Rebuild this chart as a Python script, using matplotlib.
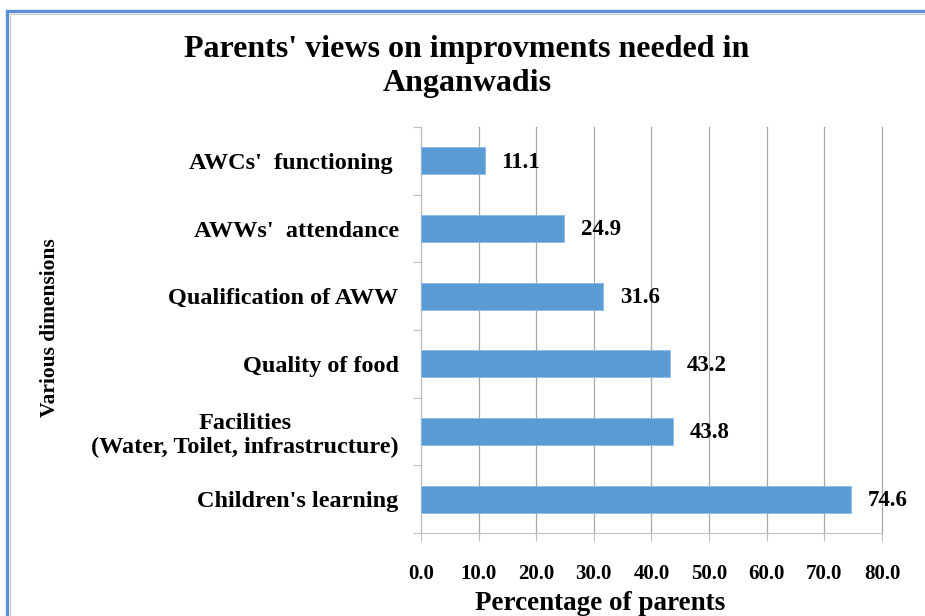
import matplotlib
matplotlib.use('Agg')
import matplotlib.pyplot as plt
from matplotlib.patches import Rectangle

# Survey results, bottom to top as drawn
categories = [
    "Children's learning",
    "Facilities\n(Water, Toilet, infrastructure)",
    "Quality of food",
    "Qualification of AWW",
    "AWWs'  attendance",
    "AWCs'  functioning ",
]
values = [74.6, 43.8, 43.2, 31.6, 24.9, 11.1]
xticks = [0, 10, 20, 30, 40, 50, 60, 70, 80]

plt.rcParams['font.family'] = ['Liberation Serif', 'DejaVu Serif']
plt.rcParams['font.weight'] = 'bold'

fig = plt.figure(figsize=(9.25, 6.16), dpi=100)
ax = fig.add_axes([0.455, 0.1347, 0.4985, 0.6591])

ypos = list(range(len(categories)))
ax.barh(ypos, values, height=0.4, color='#5B9BD5', edgecolor='#8DBBE6',
        linewidth=0.6, zorder=3)

for y, v in zip(ypos, values):
    ax.annotate(f'{v:.1f}', xy=(v, y), xytext=(12, -1), textcoords='offset points',
                va='center', ha='left', fontsize=16.5, fontweight='bold', zorder=4)

ax.set_xlim(0, 80)
ax.set_ylim(-0.5, len(categories) - 0.5)
ax.set_xticks(xticks)
ax.set_xticklabels([f'{t:.1f}' for t in xticks], fontsize=15, fontweight='bold')

# category labels sit between the boundary tick marks
ax.set_yticks([y - 0.5 for y in ypos] + [len(categories) - 0.5])
ax.set_yticklabels([])
ax.set_yticks(ypos, minor=True)
ax.set_yticklabels(categories, minor=True, fontsize=17.5, fontweight='bold')
for lbl in ax.get_yticklabels(minor=True):
    lbl.set_multialignment('center')
    lbl.set_linespacing(1.2)
ax.tick_params(axis='y', which='minor', length=0, pad=16)
ax.tick_params(axis='y', which='major', length=6, color='#BFBFBF', direction='out')
ax.tick_params(axis='x', length=6, color='#BFBFBF', direction='out', pad=16)

ax.grid(axis='x', color='#A6A6A6', linewidth=0.9, zorder=0)
for line in ax.get_xgridlines():
    line.set_clip_on(False)
for side in ('top', 'right'):
    ax.spines[side].set_visible(False)
for side in ('left', 'bottom'):
    ax.spines[side].set_color('#BFBFBF')

fig.text(0.649, 0.021, 'Percentage of parents', ha='center', va='center',
         fontsize=19.5, fontweight='bold')
fig.text(0.054, 0.4675, 'Various dimensions', rotation=90, ha='center', va='center',
         fontsize=15.5, fontweight='bold')

fig.text(0.505, 0.892, "Parents' views on improvments needed in\nAnganwadis",
         ha='center', va='center', fontsize=23, fontweight='bold', linespacing=1.25)

# frame around the chart area
fig.patches.append(Rectangle((0.0075, -0.05), 1.05, 0.9825 + 0.05,
                             transform=fig.transFigure, fill=False,
                             edgecolor='#5B8FD8', linewidth=2.4))
fig.patches.append(Rectangle((0.0112, -0.05), 1.05, 0.977 + 0.05,
                             transform=fig.transFigure, fill=False,
                             edgecolor='#C8C8C8', linewidth=0.8))

fig.savefig('out.png', dpi=100)
